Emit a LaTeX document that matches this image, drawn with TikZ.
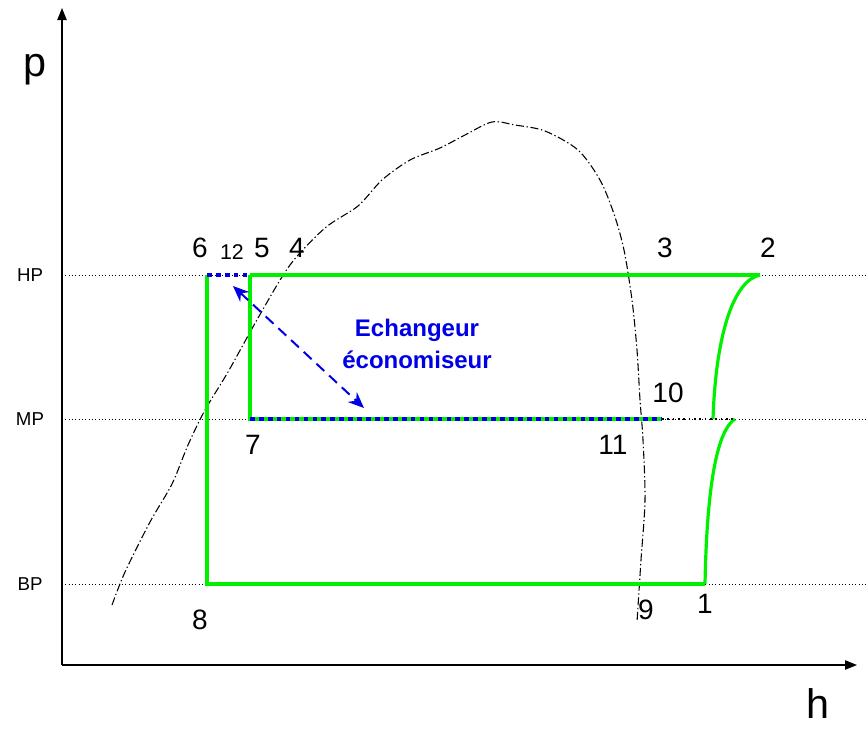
\documentclass[tikz,border=0pt]{standalone}
\usepackage{fontspec}
\setmainfont{Liberation Sans}
\usetikzlibrary{arrows.meta}
\definecolor{grn}{RGB}{0,240,0}
\definecolor{blu}{RGB}{0,0,230}
\begin{document}
\begin{tikzpicture}[x=0.75pt,y=-0.75pt,
  lvl/.style={black,line width=0.5pt,dotted},
  cyc/.style={grn,line width=2.4pt},
  num/.style={font=\fontsize{21}{21}\selectfont,inner sep=0pt},
  ax/.style={font=\fontsize{31}{31}\selectfont,inner sep=0pt},
  lev/.style={font=\fontsize{14}{14}\selectfont,inner sep=0pt},
  ecodot/.style={blu,line width=3.5pt,dash pattern=on 3.5pt off 3.2pt}]
\useasboundingbox (0,0) rectangle (867,728);
% axes
\coordinate (O) at (62,665);
\coordinate (ytop) at (62,8);
\coordinate (xend) at (857,665);
\draw[line width=0.8pt,-{Triangle[length=9pt,width=7pt]}] (O) -- (ytop);
\draw[line width=0.8pt,-{Triangle[length=9pt,width=7pt]}] (O) -- (xend);
\node[ax] (p) at (35,70) {p};
\node[ax,anchor=base] (h) at (818,718) {h};
% levels
\coordinate (hpL) at (62,275); \coordinate (hpR) at (867,275);
\coordinate (mpL) at (62,419); \coordinate (mpR) at (867,419);
\coordinate (bpL) at (62,584); \coordinate (bpR) at (867,584);
\draw[lvl] (hpL) -- (hpR);
\draw[lvl] (mpL) -- (mpR);
\draw[lvl] (bpL) -- (bpR);
\node[lev] (HP) at (30,275) {HP};
\node[lev] (MP) at (30,419) {MP};
\node[lev] (BP) at (30,584) {BP};
% saturation dome
\draw[black,line width=0.8pt,dash pattern=on 6pt off 2pt on 1pt off 2pt]
 plot[smooth] coordinates {(112,605) (125,572) (150,522) (172,484) (188,445) (205,410) (228,372) (258,318) (290,265) (325,228) (358,206) (382,180) (410,160) (440,148) (465,135) (492,122) (515,125) (545,131) (578,150) (600,180) (614,214) (624,250) (632,300) (637,350) (640,400) (643,440) (645,500) (641,560) (637,622)};
% cycle points
\coordinate (c6) at (207,275);
\coordinate (c5) at (250,275);
\coordinate (c2) at (760,275);
\coordinate (c7) at (250,419);
\coordinate (c10) at (662,419);
\coordinate (c8) at (207,584);
\coordinate (c1) at (705,584);
\coordinate (m1) at (735,419);
\coordinate (m2) at (713,419);
% green cycle
\draw[cyc] (c5) -- (c2);
\draw[cyc] (c6) -- (c8) -- (c1);
\draw[cyc] (c5) -- (c7) -- (c10);
\draw[cyc] (c1) .. controls (707,480) and (718,430) .. (m1);
\draw[cyc] (m2) .. controls (716,330) and (735,280) .. (c2);
\draw[black,line width=1.5pt,dash pattern=on 1.2pt off 2.8pt] (c10) -- (m1);
% blue dotted economiser
\draw[ecodot] (c6) -- (c5);
\draw[ecodot] (c7) -- (c10);
% double arrow
\coordinate (a1) at (233,286);
\coordinate (a2) at (364,408);
\draw[blu,line width=1.5pt,dash pattern=on 8pt off 5pt,{Stealth[length=12pt,width=10pt]}-{Stealth[length=12pt,width=10pt]}] (a1) -- (a2);
\node[blu,font=\bfseries\fontsize{18}{18}\selectfont,align=center,inner sep=0pt] (eco) at (417,344) {Echangeur\\[6pt]économiseur};
% numbers
\node[num] (n6) at (200,248) {6};
\node[num,font=\fontsize{16}{16}\selectfont] (n12) at (232,252) {12};
\node[num] (n5) at (262,248) {5};
\node[num] (n4) at (297,248) {4};
\node[num] (n3) at (665,248) {3};
\node[num] (n2) at (768,248) {2};
\node[num] (n10) at (668,393) {10};
\node[num] (n11) at (613,445) {11};
\node[num] (n7) at (253,445) {7};
\node[num] (n8) at (200,620) {8};
\node[num] (n9) at (646,610) {9};
\node[num] (n1) at (705,604) {1};
\end{tikzpicture}
\end{document}
